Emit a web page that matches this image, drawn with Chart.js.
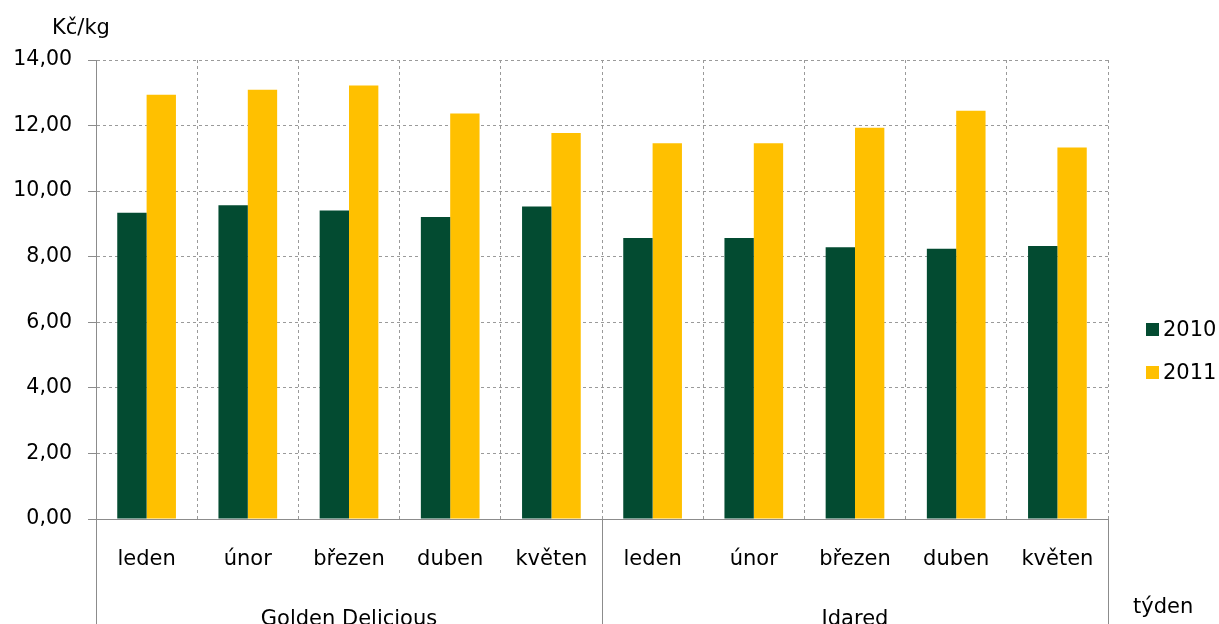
<!DOCTYPE html>
<html>
<head>
<meta charset="utf-8">
<script src="https://cdn.jsdelivr.net/npm/chart.js@4/dist/chart.umd.min.js"></script>
<style>
  html, body { margin: 0; padding: 0; background: #fff; }
  #wrap { width: 1219px; height: 624px; position: relative; }
</style>
</head>
<body>
<div id="wrap"><canvas id="c"></canvas></div>
<script>
// Měsíce v rámci dvou odrůd, ceny Kč/kg
const months = ['leden', 'únor', 'březen', 'duben', 'květen', 'leden', 'únor', 'březen', 'duben', 'květen'];
const groups = ['Golden Delicious', 'Idared'];
const groupSize = 5;
const price2010 = [9.34, 9.57, 9.41, 9.21, 9.53, 8.57, 8.57, 8.29, 8.24, 8.33];
const price2011 = [12.94, 13.09, 13.22, 12.37, 11.77, 11.46, 11.46, 11.93, 12.45, 11.33];
const seriesNames = ['2010', '2011'];
const yTicks = [0, 2, 4, 6, 8, 10, 12, 14];

const COL = { green: '#034b31', gold: '#ffc000', grid: '#9a9a9a', axis: '#8c8c8c', text: '#000' };
const FONT = 'DejaVu Sans';

// Osy plnou čarou, popisky skupin, oddělovače, jednotky a legenda
const extras = {
  id: 'extras',
  afterDraw(chart) {
    const { ctx, scales: { x }, chartArea: a } = chart;
    const step = (x.right - x.left) / months.length;
    ctx.save();
    ctx.setLineDash([]);
    ctx.strokeStyle = COL.axis;
    ctx.lineWidth = 1;
    const left = Math.round(a.left) + 0.5;
    const bottom = Math.round(a.bottom) + 0.5;
    ctx.beginPath();
    ctx.moveTo(left, a.top);
    ctx.lineTo(left, a.bottom);
    ctx.moveTo(a.left - 8, bottom);
    ctx.lineTo(a.right, bottom);
    ctx.stroke();
    for (let g = 0; g <= groups.length; g++) {
      const px = Math.round(x.getPixelForValue(g * groupSize) - step / 2) + 0.5;
      ctx.beginPath();
      ctx.moveTo(px, a.bottom);
      ctx.lineTo(px, chart.height);
      ctx.stroke();
    }
    ctx.fillStyle = COL.text;
    ctx.font = `21px "${FONT}"`;
    ctx.textAlign = 'center';
    ctx.textBaseline = 'alphabetic';
    groups.forEach((name, g) => {
      const cx = (x.getPixelForValue(g * groupSize) + x.getPixelForValue(g * groupSize + groupSize - 1)) / 2;
      ctx.fillText(name, cx, 625);
    });
    ctx.textAlign = 'left';
    ctx.fillText('týden', 1133, 613);
    ctx.fillText('Kč/kg', 52, 34);

    const colors = [COL.green, COL.gold];
    seriesNames.forEach((s, i) => {
      const cy = 329.5 + i * 43;
      ctx.fillStyle = colors[i];
      ctx.fillRect(1146, cy - 6.5, 13, 13);
      ctx.fillStyle = COL.text;
      ctx.textBaseline = 'middle';
      ctx.fillText(s, 1163, cy + 1);
    });
    ctx.restore();
  },
};

new Chart(document.getElementById('c'), {
  type: 'bar',
  data: {
    labels: months,
    datasets: [
      { label: seriesNames[0], data: price2010, backgroundColor: COL.green },
      { label: seriesNames[1], data: price2011, backgroundColor: COL.gold },
    ],
  },
  options: {
    responsive: true, maintainAspectRatio: false, animation: false,
    devicePixelRatio: 1,
    layout: { padding: { top: 60, right: 111, left: 0, bottom: 0 } },
    datasets: { bar: { categoryPercentage: 0.58, barPercentage: 1.0 } },
    plugins: { legend: { display: false }, tooltip: { enabled: false } },
    scales: {
      x: {
        grid: { color: COL.grid, lineWidth: 1, drawTicks: false, offset: true },
        border: { display: true, color: COL.axis, width: 1, dash: [3, 3] },
        ticks: { color: COL.text, font: { family: FONT, size: 21 }, padding: 28, maxRotation: 0, autoSkip: false },
        afterFit: (s) => { s.height = 105; },
      },
      y: {
        min: 0, max: 14,
        afterBuildTicks: (s) => { s.ticks = yTicks.map((v) => ({ value: v })); },
        grid: { color: COL.grid, lineWidth: 1, tickLength: 8, tickColor: COL.axis, tickBorderDash: [] },
        border: { display: true, color: COL.axis, width: 1, dash: [3, 3] },
        ticks: {
          color: COL.text, font: { family: FONT, size: 20.5 }, padding: 16,
          callback: (v) => v.toFixed(2).replace('.', ','),
        },
        afterFit: (s) => { s.width = 96; },
      },
    },
  },
  plugins: [extras],
});
</script>
</body>
</html>
